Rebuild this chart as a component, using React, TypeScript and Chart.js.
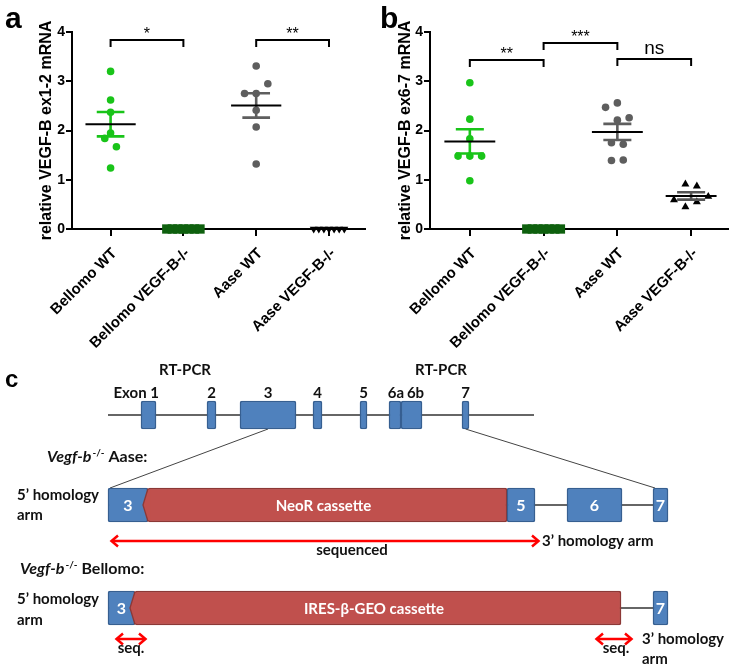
import React, { useEffect, useRef } from 'react';
import { Chart, registerables } from 'chart.js';

Chart.register(...registerables);

const ARIAL = "'Liberation Sans', Arial, sans-serif";
const CALIBRI = "Lato, 'Open Sans', sans-serif";

// ---------- shared categories / ticks ----------
const categories = ['Bellomo WT', 'Bellomo VEGF-B-/-', 'Aase WT', 'Aase VEGF-B-/-'];
const yTickValues = [0, 1, 2, 3, 4];

// ---------- panel a : VEGF-B ex1-2 ----------
const aTitle = 'relative VEGF-B ex1-2 mRNA';
const aBellomoWT = [3.2, 2.62, 2.37, 1.95, 1.84, 1.67, 1.24];
const aBellomoKO = [0, 0, 0, 0, 0, 0, 0];
const aAaseWT = [3.31, 2.95, 2.75, 2.75, 2.41, 2.07, 1.32];
const aAaseKO = [0, 0, 0, 0, 0, 0, 0];
const aBracketFrom = [0, 2];
const aBracketTo = [1, 3];
const aBracketLevel = [3.83, 3.83];
const aBracketLabel = ['*', '**'];

// ---------- panel b : VEGF-B ex6-7 ----------
const bTitle = 'relative VEGF-B ex6-7 mRNA';
const bBellomoWT = [2.97, 2.23, 1.83, 1.48, 1.48, 1.48, 0.98];
const bBellomoKO = [0, 0, 0, 0, 0, 0, 0];
const bAaseWT = [2.56, 2.47, 2.26, 2.21, 1.75, 1.72, 1.4, 1.39];
const bAaseKO = [0.91, 0.87, 0.66, 0.59, 0.55, 0.45];
const bBracketFrom = [0, 1, 2];
const bBracketTo = [1, 2, 3];
const bBracketLevel = [3.43, 3.77, 3.46];
const bBracketLabel = ['**', '***', 'ns'];

// swarm column of every symbol (dot-plot layout, in symbol columns)
const aColumns = [
  [0, 0, 0, 0, -0.5, 0.5, 0],
  [-3, -2, -1, 0, 1, 2, 3],
  [0, 1, -1, 0, 0, 0, 0],
  [-3, -2, -1, 0, 1, 2, 3],
];
const bColumns = [
  [0, 0, 0, -1, 0, 1, 0],
  [-3, -2, -1, 0, 1, 2, 3],
  [0, -1, 1, 0, -0.5, 0.5, 0.5, -0.5],
  [-0.5, 0.5, 1.5, -1.5, 0.5, -0.5],
];

// ---------- panel c : gene model (schematic units) ----------
const geneRow = 415;
const aaseRow = 505;
const bellomoRow = 608;
const geneSpan = [108, 534];
const geneExonNames = ['Exon 1', '2', '3', '4', '5', '6a', '6b', '7'];
const geneExonStart = [141, 207, 240, 313, 360, 389, 401, 462];
const geneExonEnd = [156, 216, 296, 322, 367, 401, 422, 469];
const rtpcrLabelX = [185, 441];
const aaseExonNames = ['3', '5', '6', '7'];
const aaseExonStart = [108, 507, 567, 653];
const aaseExonEnd = [148, 535, 622, 668];
const aaseCassetteName = ['NeoR cassette'];
const aaseCassetteStart = [148];
const aaseCassetteEnd = [507];
const bellomoExonNames = ['3', '7'];
const bellomoExonStart = [108, 653];
const bellomoExonEnd = [135, 668];
const bellomoCassetteName = ['IRES-β-GEO cassette'];
const bellomoCassetteStart = [135];
const bellomoCassetteEnd = [621];
const seqArrowStart = [110, 115, 595];
const seqArrowEnd = [540, 147, 633];
const seqArrowRow = [541, 639, 639];
const seqArrowLabel = ['sequenced', 'seq.', 'seq.'];
const seqLabelX = [352, 131, 616];

// ---------- styles ----------
const GREEN = '#19c419';
const DARK_GREEN = '#0e600e';
const GRAY = '#5e5e5e';
const BLUE = '#4f81bd';
const BLUE_EDGE = '#365f91';
const RED = '#c0504d';
const RED_EDGE = '#8c3836';
const MEAN_HALF = 0.345;
const SEM_HALF = 0.19;

const aStyles = [
  { shape: 'circle', fill: GREEN, edge: GREEN, edgeWidth: 0, radius: 3.8, step: 0.16, rotation: 0, sem: GREEN },
  { shape: 'rect', fill: DARK_GREEN, edge: DARK_GREEN, edgeWidth: 0, radius: 6.6, step: 0.076, rotation: 0, sem: GREEN },
  { shape: 'circle', fill: GRAY, edge: GRAY, edgeWidth: 0, radius: 3.8, step: 0.16, rotation: 0, sem: GRAY },
  { shape: 'triangle', fill: '#000', edge: '#000', edgeWidth: 0, radius: 4.6, step: 0.07, rotation: 180, sem: '#555' },
];
const bStyles = [
  aStyles[0],
  aStyles[1],
  aStyles[2],
  { shape: 'triangle', fill: '#000', edge: '#000', edgeWidth: 0, radius: 4.6, step: 0.155, rotation: 0, sem: '#555' },
];

const mean = (a: number[]) => a.reduce((s, v) => s + v, 0) / a.length;
const sem = (a: number[]) => {
  const m = mean(a);
  const v = a.reduce((s, x) => s + (x - m) * (x - m), 0) / (a.length - 1);
  return Math.sqrt(v / a.length);
};

type PanelCfg = {
  letter: string;
  letterX: number;
  title: string;
  titlePad: number;
  groups: number[][];
  columns: number[][];
  styles: any[];
  bracketFrom: number[];
  bracketTo: number[];
  bracketLevel: number[];
  bracketLabel: string[];
  height: number;
  yAxisWidth: number;
  padRight: number;
  xMin: number;
};

const PANEL_H = 360;

const panelA: PanelCfg = {
  letter: 'a', letterX: 5, title: aTitle, titlePad: 37,
  groups: [aBellomoWT, aBellomoKO, aAaseWT, aAaseKO], columns: aColumns, styles: aStyles,
  bracketFrom: aBracketFrom, bracketTo: aBracketTo, bracketLevel: aBracketLevel, bracketLabel: aBracketLabel,
  height: PANEL_H, yAxisWidth: 72, padRight: 0, xMin: -0.53,
};
const panelB: PanelCfg = {
  letter: 'b', letterX: 8, title: bTitle, titlePad: 24,
  groups: [bBellomoWT, bBellomoKO, bAaseWT, bAaseKO], columns: bColumns, styles: bStyles,
  bracketFrom: bBracketFrom, bracketTo: bBracketTo, bracketLevel: bBracketLevel, bracketLabel: bBracketLabel,
  height: PANEL_H, yAxisWidth: 58, padRight: 7, xMin: -0.54,
};

function dotPlotDecor(cfg: PanelCfg) {
  return {
    id: 'dotPlotDecor',
    afterDatasetsDraw(chart: any) {
      const { ctx } = chart;
      const xs = chart.scales.x;
      const ys = chart.scales.y;
      const px = (v: number) => xs.getPixelForValue(v);
      const py = (v: number) => ys.getPixelForValue(v);
      ctx.save();
      cfg.groups.forEach((vals, gi) => {
        const m = mean(vals);
        const s = sem(vals);
        if (m === 0 && s === 0) return;
        const st = cfg.styles[gi];
        ctx.strokeStyle = st.sem;
        ctx.lineWidth = 2.6;
        ctx.beginPath();
        ctx.moveTo(px(gi), py(m + s));
        ctx.lineTo(px(gi), py(m - s));
        ctx.moveTo(px(gi - SEM_HALF), py(m + s));
        ctx.lineTo(px(gi + SEM_HALF), py(m + s));
        ctx.moveTo(px(gi - SEM_HALF), py(m - s));
        ctx.lineTo(px(gi + SEM_HALF), py(m - s));
        ctx.stroke();
        ctx.strokeStyle = '#000';
        ctx.lineWidth = 2;
        ctx.beginPath();
        ctx.moveTo(px(gi - MEAN_HALF), py(m));
        ctx.lineTo(px(gi + MEAN_HALF), py(m));
        ctx.stroke();
      });
      ctx.strokeStyle = '#000';
      ctx.fillStyle = '#000';
      ctx.lineWidth = 2;
      cfg.bracketFrom.forEach((f, i) => {
        const t = cfg.bracketTo[i];
        const yy = Math.round(py(cfg.bracketLevel[i]));
        ctx.beginPath();
        ctx.moveTo(px(f), yy + 7);
        ctx.lineTo(px(f), yy);
        ctx.lineTo(px(t), yy);
        ctx.lineTo(px(t), yy + 7);
        ctx.stroke();
        const lab = cfg.bracketLabel[i];
        const isNs = lab === 'ns';
        ctx.font = isNs ? `19px ${ARIAL}` : `16px ${ARIAL}`;
        ctx.textAlign = 'center';
        ctx.textBaseline = 'alphabetic';
        ctx.fillText(lab, px((f + t) / 2), yy - (isNs ? 5 : 1));
      });
      ctx.restore();
    },
    afterDraw(chart: any) {
      const { ctx } = chart;
      const xs = chart.scales.x;
      const ys = chart.scales.y;
      ctx.save();
      ctx.fillStyle = '#000';
      // rotated category labels at 45 degrees, ending at each tick
      ctx.font = `bold 15px ${ARIAL}`;
      ctx.textAlign = 'right';
      ctx.textBaseline = 'middle';
      categories.forEach((c, i) => {
        ctx.save();
        ctx.translate(xs.getPixelForValue(i) + 4, ys.getPixelForValue(0) + 22);
        ctx.rotate(-Math.PI / 4);
        ctx.fillText(c, 0, 0);
        ctx.restore();
      });
      ctx.font = `bold 30px ${ARIAL}`;
      ctx.textAlign = 'left';
      ctx.textBaseline = 'alphabetic';
      ctx.fillText(cfg.letter, cfg.letterX, 28);
      ctx.restore();
    },
  };
}

function makeDotPlot(canvas: HTMLCanvasElement, cfg: PanelCfg) {
  const datasets = cfg.groups.map((vals, gi) => {
    const st = cfg.styles[gi];
    return {
      label: categories[gi],
      data: vals.map((v, k) => ({ x: gi + cfg.columns[gi][k] * st.step, y: v })),
      pointStyle: st.shape,
      pointRadius: st.radius,
      pointRotation: st.rotation,
      backgroundColor: st.fill,
      borderColor: st.edge,
      borderWidth: st.edgeWidth,
      clip: false,
    };
  });
  const axisGrid = { display: true, drawOnChartArea: false, drawTicks: true, color: '#000', lineWidth: 2 };
  return new Chart(canvas, {
    type: 'scatter',
    data: { datasets },
    options: {
      animation: false,
      responsive: false,
      devicePixelRatio: 1,
      events: [],
      layout: { padding: { top: 32, right: cfg.padRight, left: 0, bottom: 0 } },
      plugins: { legend: { display: false }, tooltip: { enabled: false } },
      scales: {
        x: {
          type: 'linear',
          min: cfg.xMin,
          max: 3.5,
          afterBuildTicks: (s: any) => {
            s.ticks = categories.map((_, i) => ({ value: i }));
          },
          afterFit: (s: any) => {
            s.height = cfg.height - 229;
          },
          grid: { ...axisGrid, tickLength: 7 },
          border: { display: true, color: '#000', width: 2 },
          ticks: { display: false },
        },
        y: {
          type: 'linear',
          min: 0,
          max: 4,
          afterBuildTicks: (s: any) => {
            s.ticks = yTickValues.map((v) => ({ value: v }));
          },
          afterFit: (s: any) => {
            s.width = cfg.yAxisWidth;
          },
          grid: { ...axisGrid, tickLength: 6 },
          border: { display: true, color: '#000', width: 2 },
          ticks: { padding: 1, color: '#000', font: { family: ARIAL, size: 14, weight: 'bold' } },
          title: {
            display: true,
            text: cfg.title,
            color: '#000',
            font: { family: ARIAL, size: 16, weight: 'bold' },
            padding: { top: cfg.titlePad, bottom: 0 },
          },
        },
      },
    } as any,
    plugins: [dotPlotDecor(cfg)],
  });
}

// ---------- panel c ----------
function drawRich(ctx: any, x: number, y: number, parts: any[]) {
  let cx = x;
  parts.forEach((p) => {
    ctx.font = `${p.italic ? 'italic ' : ''}bold ${p.size}px ${CALIBRI}`;
    ctx.fillText(p.text, cx, y - (p.rise || 0));
    cx += ctx.measureText(p.text).width + (p.gap || 0);
  });
}

function drawArrow(ctx: any, x1: number, x2: number, y: number) {
  ctx.strokeStyle = '#ff0000';
  ctx.lineWidth = 2.5;
  ctx.lineJoin = 'miter';
  ctx.beginPath();
  ctx.moveTo(x1 + 2, y);
  ctx.lineTo(x2 - 2, y);
  ctx.stroke();
  ctx.beginPath();
  ctx.moveTo(x1 + 8, y - 5.5);
  ctx.lineTo(x1 + 1.5, y);
  ctx.lineTo(x1 + 8, y + 5.5);
  ctx.moveTo(x2 - 8, y - 5.5);
  ctx.lineTo(x2 - 1.5, y);
  ctx.lineTo(x2 - 8, y + 5.5);
  ctx.stroke();
}

const GENE_BOX = 28;
const ARM_BOX = 34;

const diagramPlugin = {
  id: 'geneDiagram',
  beforeDatasetsDraw(chart: any) {
    const { ctx } = chart;
    const X = (v: number) => chart.scales.x.getPixelForValue(v);
    const Y = (v: number) => chart.scales.y.getPixelForValue(v);
    const seg = (x1: number, y1: number, x2: number, y2: number) => {
      ctx.beginPath();
      ctx.moveTo(X(x1), Y(y1));
      ctx.lineTo(X(x2), Y(y2));
      ctx.stroke();
    };
    ctx.save();
    ctx.strokeStyle = '#333';
    ctx.lineWidth = 1.3;
    seg(geneSpan[0], geneRow, geneSpan[1], geneRow);
    seg(aaseExonStart[0], aaseRow, aaseExonEnd[aaseExonEnd.length - 1], aaseRow);
    seg(bellomoExonStart[0], bellomoRow, bellomoExonEnd[bellomoExonEnd.length - 1], bellomoRow);
    ctx.lineWidth = 1;
    ctx.strokeStyle = '#444';
    seg((geneExonStart[2] + geneExonEnd[2]) / 2, geneRow + GENE_BOX / 2, aaseExonStart[0] + 2, aaseRow - ARM_BOX / 2);
    seg((geneExonStart[7] + geneExonEnd[7]) / 2, geneRow + GENE_BOX / 2, aaseExonStart[3] + 2, aaseRow - ARM_BOX / 2);
    ctx.restore();
  },
  afterDatasetsDraw(chart: any) {
    const { ctx } = chart;
    const X = (v: number) => chart.scales.x.getPixelForValue(v);
    const Y = (v: number) => chart.scales.y.getPixelForValue(v);
    ctx.save();
    // chevron ends of the cassettes
    const chevron = (s: number, row: number) => {
      const x = X(s);
      const top = Y(row) - ARM_BOX / 2;
      const bot = Y(row) + ARM_BOX / 2;
      const mid = Y(row);
      ctx.fillStyle = RED;
      ctx.beginPath();
      ctx.moveTo(x + 2.5, top + 1.5);
      ctx.lineTo(x, top + 1.5);
      ctx.lineTo(x - 5, mid);
      ctx.lineTo(x, bot - 1.5);
      ctx.lineTo(x + 2.5, bot - 1.5);
      ctx.closePath();
      ctx.fill();
      ctx.strokeStyle = RED_EDGE;
      ctx.lineWidth = 1.3;
      ctx.beginPath();
      ctx.moveTo(x, top + 0.5);
      ctx.lineTo(x - 5, mid);
      ctx.lineTo(x, bot - 0.5);
      ctx.stroke();
    };
    aaseCassetteStart.forEach((s) => chevron(s, aaseRow));
    bellomoCassetteStart.forEach((s) => chevron(s, bellomoRow));

    // labels inside boxes
    ctx.fillStyle = '#fff';
    ctx.textAlign = 'center';
    ctx.textBaseline = 'middle';
    ctx.font = `bold 16px ${CALIBRI}`;
    aaseExonNames.forEach((n, i) => ctx.fillText(n, X((aaseExonStart[i] + aaseExonEnd[i]) / 2), Y(aaseRow) + 1));
    bellomoExonNames.forEach((n, i) => ctx.fillText(n, X((bellomoExonStart[i] + bellomoExonEnd[i]) / 2), Y(bellomoRow) + 1));
    ctx.font = `bold 15px ${CALIBRI}`;
    aaseCassetteName.forEach((n, i) => ctx.fillText(n, X((aaseCassetteStart[i] + aaseCassetteEnd[i]) / 2) - 4, Y(aaseRow) + 1));
    bellomoCassetteName.forEach((n, i) => ctx.fillText(n, X((bellomoCassetteStart[i] + bellomoCassetteEnd[i]) / 2) - 4, Y(bellomoRow) + 1));

    // exon labels above gene model
    ctx.fillStyle = '#111';
    ctx.textBaseline = 'alphabetic';
    ctx.font = `bold 15px ${CALIBRI}`;
    geneExonNames.forEach((n, i) => {
      const c = (geneExonStart[i] + geneExonEnd[i]) / 2;
      if (n.startsWith('Exon')) {
        ctx.textAlign = 'right';
        ctx.fillText(n, X(geneExonEnd[i]) + 3, Y(geneRow) - 17);
      } else {
        ctx.textAlign = 'center';
        const nudge = n === '6b' ? 4 : n === '6a' ? 1 : 0;
        ctx.fillText(n, X(c) + nudge, Y(geneRow) - 17);
      }
    });
    ctx.textAlign = 'center';
    rtpcrLabelX.forEach((x) => ctx.fillText('RT-PCR', X(x), Y(geneRow) - 40));

    // red sequencing arrows
    seqArrowStart.forEach((s, i) => drawArrow(ctx, X(s), X(seqArrowEnd[i]), Y(seqArrowRow[i])));
    ctx.fillStyle = '#111';
    ctx.textAlign = 'center';
    ctx.font = `bold 15px ${CALIBRI}`;
    seqArrowLabel.forEach((t, i) => ctx.fillText(t, X(seqLabelX[i]), Y(seqArrowRow[i]) + 14));

    // side texts
    ctx.textAlign = 'left';
    ctx.font = `bold 15px ${CALIBRI}`;
    ctx.fillText('5’ homology', X(17), Y(aaseRow) - 5);
    ctx.fillText('arm', X(17), Y(aaseRow) + 15);
    ctx.fillText('5’ homology', X(17), Y(bellomoRow) - 4);
    ctx.fillText('arm', X(17), Y(bellomoRow) + 17);
    ctx.fillText('3’ homology arm', X(seqArrowEnd[0]) + 2, Y(seqArrowRow[0]) + 5);
    ctx.fillText('3’ homology', X(642), Y(seqArrowRow[2]) + 5);
    ctx.fillText('arm', X(642), Y(seqArrowRow[2]) + 25);

    drawRich(ctx, X(47), Y(aaseRow) - 43, [
      { text: 'Vegf-b', italic: true, size: 16, gap: 1 },
      { text: '-/-', size: 10, rise: 6 },
      { text: ' Aase:', size: 16 },
    ]);
    drawRich(ctx, X(20), Y(bellomoRow) - 34, [
      { text: 'Vegf-b', italic: true, size: 16, gap: 1 },
      { text: '-/-', size: 10, rise: 6 },
      { text: ' Bellomo:', size: 16 },
    ]);

    // panel letter
    ctx.fillStyle = '#000';
    ctx.font = `bold 24px ${ARIAL}`;
    ctx.fillText('c', 5, 57);
    ctx.restore();
  },
};

function makeDiagram(canvas: HTMLCanvasElement) {
  const bars = (starts: number[], ends: number[], row: number, thick: number, fill: string, edge: string) => ({
    type: 'bar',
    data: starts.map((s, i) => ({ x: [s, ends[i]], y: row })),
    backgroundColor: fill,
    borderColor: edge,
    borderWidth: 1.5,
    borderSkipped: false,
    borderRadius: 2,
    barThickness: thick,
    grouped: false,
  });
  return new Chart(canvas, {
    type: 'bar',
    data: {
      datasets: [
        bars(geneExonStart, geneExonEnd, geneRow, GENE_BOX, BLUE, BLUE_EDGE),
        bars(aaseExonStart, aaseExonEnd, aaseRow, ARM_BOX, BLUE, BLUE_EDGE),
        bars(aaseCassetteStart, aaseCassetteEnd, aaseRow, ARM_BOX, RED, RED_EDGE),
        bars(bellomoExonStart, bellomoExonEnd, bellomoRow, ARM_BOX, BLUE, BLUE_EDGE),
        bars(bellomoCassetteStart, bellomoCassetteEnd, bellomoRow, ARM_BOX, RED, RED_EDGE),
      ] as any,
    },
    options: {
      indexAxis: 'y',
      animation: false,
      responsive: false,
      devicePixelRatio: 1,
      events: [],
      layout: { padding: 0 },
      plugins: { legend: { display: false }, tooltip: { enabled: false } },
      scales: {
        x: { type: 'linear', min: 0, max: 735, display: false, offset: false },
        y: { type: 'linear', min: 330, max: 670, reverse: true, display: false, offset: false },
      },
    } as any,
    plugins: [diagramPlugin],
  });
}

export default function App() {
  const aRef = useRef<HTMLCanvasElement>(null);
  const bRef = useRef<HTMLCanvasElement>(null);
  const cRef = useRef<HTMLCanvasElement>(null);
  useEffect(() => {
    const charts = [
      makeDotPlot(aRef.current!, panelA),
      makeDotPlot(bRef.current!, panelB),
      makeDiagram(cRef.current!),
    ];
    return () => charts.forEach((c) => c.destroy());
  }, []);
  return (
    <div style={{ position: 'fixed', left: 0, top: 0, width: 735, height: 670, background: '#fff', overflow: 'hidden' }}>
      <canvas ref={aRef} width={372} height={PANEL_H} style={{ position: 'absolute', left: 0, top: 0, width: 372, height: PANEL_H }} />
      <canvas ref={bRef} width={363} height={PANEL_H} style={{ position: 'absolute', left: 372, top: 0, width: 363, height: PANEL_H }} />
      <canvas ref={cRef} width={735} height={340} style={{ position: 'absolute', left: 0, top: 330, width: 735, height: 340 }} />
    </div>
  );
}
